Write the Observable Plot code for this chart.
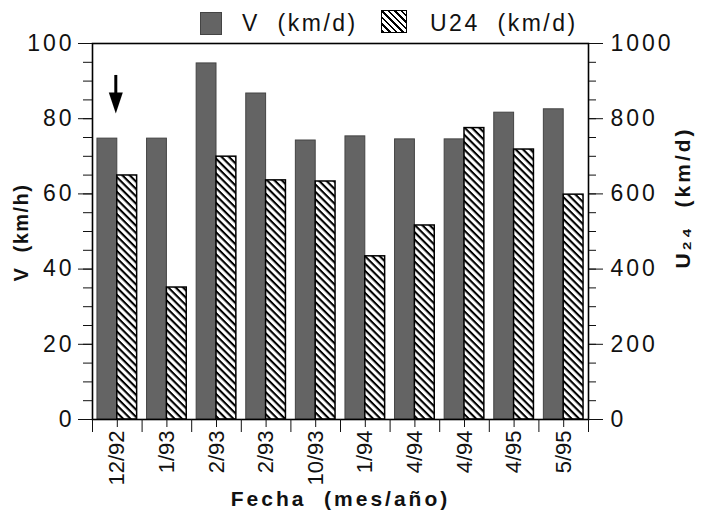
<!DOCTYPE html>
<html>
<head>
<meta charset="utf-8">
<script src="https://cdn.jsdelivr.net/npm/d3@7"></script>
<script src="https://cdn.jsdelivr.net/npm/@observablehq/plot@0.6"></script>
<style>
  body { margin: 0; background: #fff; }
  #wrap { position: relative; width: 704px; height: 517px; font-family: "Liberation Sans", Arial, sans-serif; }
  .lg { position: absolute; font-size: 23px; letter-spacing: 2.5px; white-space: pre; color: #111; line-height: 1; }
  .sw { position: absolute; box-sizing: border-box; }
  .xt text { letter-spacing: 0px; }
  .yt text { letter-spacing: 1.5px; }
</style>
</head>
<body>
<div id="wrap">
  <div class="sw" style="left:200px;top:12px;width:22px;height:23px;background:#646464;border:1px solid #444;"></div>
  <div class="lg" style="left:242px;top:12px;">V  (km/d)</div>
  <div class="sw" style="left:381px;top:10px;width:26px;height:23px;border:1.5px solid #000;background:repeating-linear-gradient(45deg,#000 0 1.8px,#fff 1.8px 4.6px);"></div>
  <div class="lg" style="left:430px;top:12px;">U24  (km/d)</div>
  <div id="chart"></div>
</div>
<script>
// ---- data ----
const dates = ["12/92", "1/93", "2/93", "2/93", "10/93", "1/94", "4/94", "4/94", "4/95", "5/95"];
const vValues = [74.7, 74.7, 94.7, 86.7, 74.2, 75.3, 74.5, 74.5, 81.6, 82.5];   // V (km/h), left axis
const u24Values = [649, 351, 699, 636, 633, 434, 516, 775, 718, 598];         // U24 (km/d), right axis
const leftTicks = [0, 20, 40, 60, 80, 100];
const rightTickLabels = ["0", "200", "400", "600", "800", "1000"];
const arrowNotes = [{ i: 0, top: 91.5, head: 84.2 }];

const rows = dates.map((d, i) => ({ i, date: d, v: vValues[i], u: u24Values[i] }));

const arrowHead = {
  draw(ctx) {
    const w = 7, h = 21;
    ctx.moveTo(-w, -h / 2);
    ctx.lineTo(w, -h / 2);
    ctx.lineTo(0, h / 2);
    ctx.closePath();
  }
};

const chart = Plot.plot({
  width: 704,
  height: 517,
  marginLeft: 92,
  marginRight: 116,
  marginTop: 43,
  marginBottom: 98,
  style: { fontFamily: "Liberation Sans, Arial, sans-serif", letterSpacing: "3px", color: "#111", background: "transparent" },
  x: { type: "linear", domain: [-0.5, 9.5] },
  y: { domain: [0, 100] },
  marks: [
    Plot.rectY(rows, { x1: d => d.i - 0.4, x2: d => d.i, y: "v", fill: "#646464", stroke: "#444", strokeWidth: 1 }),
    Plot.rectY(rows, { x1: d => d.i, x2: d => d.i + 0.4, y: d => d.u / 10, fill: "url(#hatch)", stroke: "#000", strokeWidth: 1.5 }),
    Plot.ruleX(arrowNotes, { x: "i", y1: "top", y2: "head", stroke: "#000", strokeWidth: 3, dx: -1.5 }),
    Plot.dot(arrowNotes, { x: "i", y: "head", symbol: arrowHead, fill: "#000", stroke: "none", r: 5, dx: -1.5 }),
    Plot.frame({ stroke: "#000", strokeWidth: 1.6 }),
    Plot.axisY({ anchor: "left", ticks: leftTicks, tickSize: 14, tickPadding: 4, fontSize: 23, label: null }),
    Plot.axisY({ anchor: "left", ticks: d3.range(0, 101, 5), tickSize: 9, text: null, label: null }),
    Plot.axisY({ anchor: "right", ticks: leftTicks, tickSize: 14, tickPadding: 8, fontSize: 23, tickFormat: d => rightTickLabels[leftTicks.indexOf(d)], label: null }),
    Plot.axisY({ anchor: "right", ticks: d3.range(0, 101, 5), tickSize: 7, text: null, label: null }),
    Plot.axisX({ ticks: d3.range(dates.length), tickSize: 8, tickPadding: 3, tickRotate: -90, fontSize: 22, tickFormat: i => dates[i], label: null, className: "xt" }),
    Plot.axisX({ ticks: d3.range(-0.5, dates.length, 1), tickSize: 13, text: null, label: null }),
    Plot.text(["Fecha  (mes/año)"], { frameAnchor: "bottom", textAnchor: "middle", dy: 86, fontSize: 21, fontWeight: "bold", text: d => d }),
    Plot.text(["V  (km/h)"], { frameAnchor: "left", textAnchor: "middle", dx: -71, dy: 1, rotate: -90, fontSize: 20, fontWeight: "bold", text: d => d, className: "yt" }),
    Plot.text(["U₂₄  (km/d)"], { frameAnchor: "right", textAnchor: "middle", dx: 95, dy: -34, rotate: -90, fontSize: 21, fontWeight: "bold", text: d => d })
  ]
});

// hatch pattern used by the U24 bars
const svg = d3.select(chart.tagName.toLowerCase() === "svg" ? chart : chart.querySelector("svg"));
const defs = svg.insert("defs", ":first-child");
const pat = defs.append("pattern")
  .attr("id", "hatch")
  .attr("patternUnits", "userSpaceOnUse")
  .attr("width", 8).attr("height", 5.2)
  .attr("patternTransform", "rotate(45)");
pat.append("rect").attr("width", 8).attr("height", 5.2).attr("fill", "#fff");
pat.append("line").attr("x1", 0).attr("x2", 8).attr("y1", 1).attr("y2", 1).attr("stroke", "#000").attr("stroke-width", 2.2);

document.getElementById("chart").appendChild(chart);
</script>
</body>
</html>
